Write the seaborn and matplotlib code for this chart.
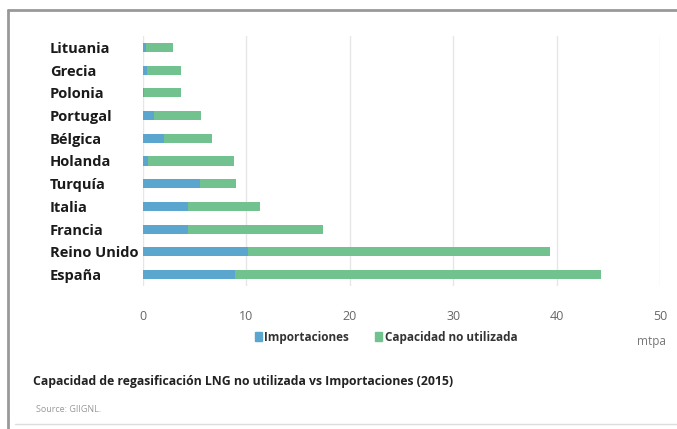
import matplotlib
matplotlib.use("Agg")
import matplotlib.pyplot as plt
import matplotlib.patches as mpatches
import seaborn as sns
import pandas as pd

# data (mtpa)
paises = ['Lituania', 'Grecia', 'Polonia', 'Portugal', 'Bélgica', 'Holanda',
          'Turquía', 'Italia', 'Francia', 'Reino Unido', 'España']
importaciones = [0.3, 0.4, 0.1, 1.1, 2.0, 0.5, 5.5, 4.4, 4.4, 10.2, 8.9]
no_utilizada = [2.6, 3.3, 3.6, 4.5, 4.7, 8.3, 3.5, 6.9, 13.0, 29.2, 35.4]
xticks = [0, 10, 20, 30, 40, 50]

azul = '#5ba6cf'
verde = '#72c28f'

df = pd.DataFrame({'pais': paises, 'imp': importaciones, 'cap': no_utilizada})
df['total'] = df['imp'] + df['cap']

sns.set_style('white')
plt.rcParams['font.family'] = ['Open Sans', 'DejaVu Sans']

W, H = 677, 429
fig = plt.figure(figsize=(W / 100, H / 100), dpi=100)
ax = fig.add_axes([143 / W, 1 - 286 / H, 517 / W, 250 / H])

sns.barplot(data=df, y='pais', x='total', color=verde, width=0.4,
            saturation=1, ax=ax, orient='h', linewidth=0)
sns.barplot(data=df, y='pais', x='imp', color=azul, width=0.4,
            saturation=1, ax=ax, orient='h', linewidth=0)

ax.set_xlim(0, 50)
ax.set_xticks(xticks)
ax.set_xlabel('')
ax.set_ylabel('')
ax.grid(axis='x', color='#e6e6e6', linewidth=1)
ax.set_axisbelow(True)
for s in ax.spines.values():
    s.set_visible(False)
ax.tick_params(axis='x', length=0, pad=17, labelsize=9, labelcolor='#666666')
ax.tick_params(axis='y', length=0, pad=67)
for lab in ax.get_yticklabels():
    lab.set_horizontalalignment('left')
    lab.set_fontsize(10.5)
    lab.set_fontweight('bold')
    lab.set_color('#1a1a1a')

# legend
handles = [mpatches.Patch(color=azul, label='Importaciones'),
           mpatches.Patch(color=verde, label='Capacidad no utilizada')]
leg = fig.legend(handles=handles, loc='center', bbox_to_anchor=(386 / W, 1 - 337 / H),
                 ncol=2, frameon=False, fontsize=8.5, handlelength=0.6,
                 handleheight=0.8, handletextpad=0.2, columnspacing=2.2)
for t in leg.get_texts():
    t.set_color('#333333')
    t.set_fontweight('bold')

fig.text(652 / W, 1 - 341 / H, 'mtpa', ha='center', va='center',
         fontsize=8.5, color='#777777')
fig.text(33 / W, 1 - 381 / H,
         'Capacidad de regasificación LNG no utilizada vs Importaciones (2015)',
         ha='left', va='center', fontsize=8.8, fontweight='bold', color='#222222')
fig.text(36 / W, 1 - 410 / H, 'Source: GIIGNL.', ha='left', va='center',
         fontsize=6.5, color='#999999')

# frame lines around the panel
fig.add_artist(plt.Line2D([8 / W, 8 / W], [0, 1 - 10 / H], color='#999999', lw=2))
fig.add_artist(plt.Line2D([8 / W, 1], [1 - 10 / H, 1 - 10 / H], color='#999999', lw=2))
fig.add_artist(plt.Line2D([15 / W, 1], [1 - 424 / H, 1 - 424 / H], color='#dddddd', lw=1))

fig.savefig('out.png', dpi=100)
